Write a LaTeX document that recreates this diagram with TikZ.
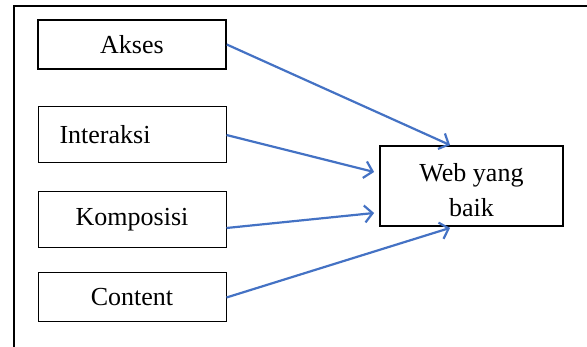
\documentclass[tikz,border=0pt]{standalone}
\usepackage{fontspec}
\setmainfont{Liberation Serif}
\usetikzlibrary{arrows.meta}
\definecolor{linkblue}{RGB}{68,114,196}
\tikzset{
  inbox/.style={draw=black, line width=1pt, minimum width=188pt, inner sep=0pt,
    font=\fontsize{26}{30}\selectfont},
  conn/.style={draw=linkblue, line width=2.2pt,
    -{Straight Barb[length=8pt,width=17pt,line width=2.2pt]}}
}
\begin{document}
\begin{tikzpicture}[x=1pt,y=-1pt]
\useasboundingbox (0,0) rectangle (587,347);
% outer frame
\draw[line width=1.4pt] (14,347) -- (14,6) -- (587,6);
% input boxes
\node[inbox, line width=1.6pt, minimum height=49pt] (akses) at (132,44.5) {Akses};
\node[inbox, minimum height=56pt] (inter) at (132,135) {\hspace*{-54pt}Interaksi};
\node[inbox, minimum height=56pt] (komp) at (132,220) {Komposisi};
\node[inbox, minimum height=49pt] (content) at (132,297.5) {Content};
% target box
\node[draw=black, line width=1.8pt, minimum width=183pt, minimum height=80pt, inner sep=0pt] (web) at (471.5,186) {};
\node[align=center, inner sep=0pt, font=\fontsize{26}{35}\selectfont] (webtext) at (471.5,190) {Web yang\\baik};
% connectors
\draw[conn] (akses.east) -- ([xshift=71pt]web.north west);
\draw[conn] (inter.east) -- ([xshift=-5pt,yshift=14pt]web.west);
\draw[conn] ([yshift=-8pt]komp.east) -- ([xshift=-5pt,yshift=-27pt]web.west);
\draw[conn] (content.east) -- ([xshift=71pt,yshift=-1pt]web.south west);
\end{tikzpicture}
\end{document}
